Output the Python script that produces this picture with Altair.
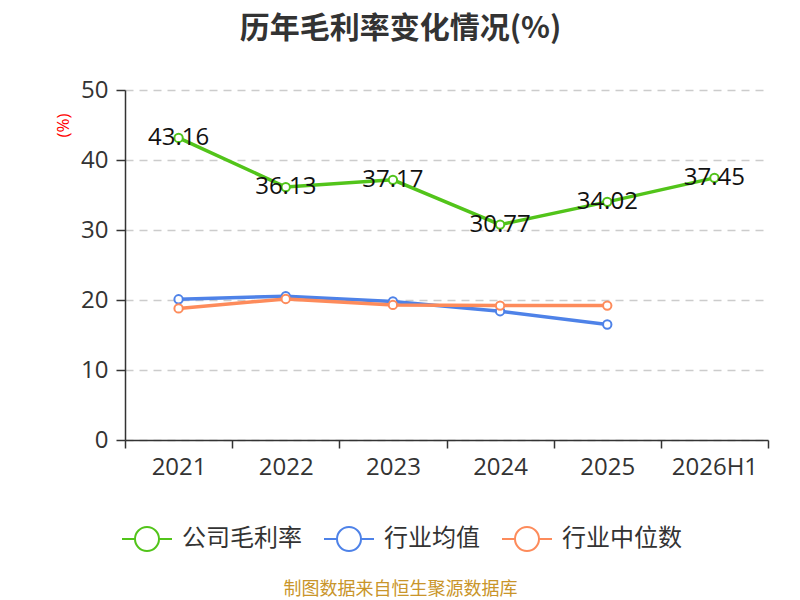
import altair as alt
import pandas as pd

years = ["2021", "2022", "2023", "2024", "2025", "2026H1"]
company = [43.16, 36.13, 37.17, 30.77, 34.02, 37.45]
ind_mean = [20.1, 20.55, 19.8, 18.4, 16.5]
ind_median = [18.8, 20.15, 19.3, 19.2, 19.2]

series_names = ["公司毛利率", "行业均值", "行业中位数"]
colors = ["#52c41a", "#4e82e8", "#fd8b5b"]

rows = []
for y, v in zip(years, company):
    rows.append({"year": y, "value": v, "series": series_names[0], "order": 0})
for y, v in zip(years, ind_mean):
    rows.append({"year": y, "value": v, "series": series_names[1], "order": 1})
for y, v in zip(years, ind_median):
    rows.append({"year": y, "value": v, "series": series_names[2], "order": 2})
df = pd.DataFrame(rows)

NUM_FONT = "Open Sans"
CJK_FONT = "Noto Sans CJK SC"

x_enc = alt.X(
    "year:N",
    sort=years,
    scale=alt.Scale(type="band", paddingInner=0, paddingOuter=0),
    axis=alt.Axis(
        title="制图数据来自恒生聚源数据库",
        titleX=275,
        titleY=149,
        titleAlign="center",
        titleBaseline="middle",
        titleColor="#c9952a",
        titleFontSize=18,
        titleFont=CJK_FONT,
        titleFontWeight="normal",
        labelAngle=0,
        labelFontSize=24,
        labelFont=NUM_FONT,
        labelColor="#333333",
        labelPadding=7,
        tickBand="extent",
        tickSize=8,
        tickColor="#333333",
        tickWidth=1.5,
        domainColor="#333333",
        domainWidth=1.5,
        grid=False,
    ),
)
y_enc = alt.Y(
    "value:Q",
    scale=alt.Scale(domain=[0, 50], nice=False),
    axis=alt.Axis(
        values=[0, 10, 20, 30, 40, 50],
        title="(%)",
        titleX=-62,
        titleY=35,
        titleAngle=270,
        titleAlign="center",
        titleBaseline="middle",
        titleColor="#ff0000",
        titleFontSize=17,
        titleFont=NUM_FONT,
        titleFontWeight="normal",
        labelFontSize=24,
        labelFont=NUM_FONT,
        labelColor="#333333",
        labelPadding=8,
        tickSize=9,
        tickColor="#333333",
        tickWidth=1.5,
        domainColor="#333333",
        domainWidth=1.5,
        grid=True,
        gridColor="#cccccc",
        gridDash=[8, 6],
        gridWidth=1.3,
    ),
)
color_enc = alt.Color(
    "series:N",
    sort=series_names,
    scale=alt.Scale(domain=series_names, range=colors),
    legend=alt.Legend(
        title=None,
        orient="none",
        legendX=-4,
        legendY=423,
        direction="horizontal",
        symbolType="M-1,0L-0.48,0M0.48,0L1,0M-0.48,0A0.48,0.48 0 1,0 0.48,0A0.48,0.48 0 1,0 -0.48,0",
        symbolSize=2500,
        symbolStrokeWidth=2,
        symbolFillColor="white",
        symbolOpacity=1,
        labelFontSize=24,
        labelFont=CJK_FONT,
        labelColor="#333333",
        labelOffset=9,
        columnPadding=18,
    ),
)

base = alt.Chart(df)

lines = base.mark_line(strokeWidth=3.5).encode(
    x=x_enc, y=y_enc, color=color_enc, order=alt.Order("order:Q")
)
points = base.mark_point(
    filled=False, fill="white", fillOpacity=1, size=70, strokeWidth=2, opacity=1
).encode(x=x_enc, y=y_enc, color=color_enc)

labels = base.transform_filter(
    alt.datum.series == series_names[0]
).mark_text(
    fontSize=24, font=NUM_FONT, color="#111111", align="center", baseline="middle"
).encode(x=x_enc, y=y_enc, text=alt.Text("value:Q", format=".2f"))

chart = alt.layer(lines, points, labels).properties(
    width=643,
    height=350,
    autosize=alt.AutoSizeParams(type="none"),
    padding={"left": 117, "top": 82, "right": 24, "bottom": 160},
    title=alt.TitleParams(
        text="历年毛利率变化情况(%)",
        fontSize=30,
        fontWeight="bold",
        font=CJK_FONT,
        color="#333333",
        anchor="middle",
        frame="group",
        offset=34,
        dx=-46,
    ),
).configure(background="white").configure_view(stroke=None)

chart.save("out.html", embed_options={"renderer": "svg", "actions": False})
